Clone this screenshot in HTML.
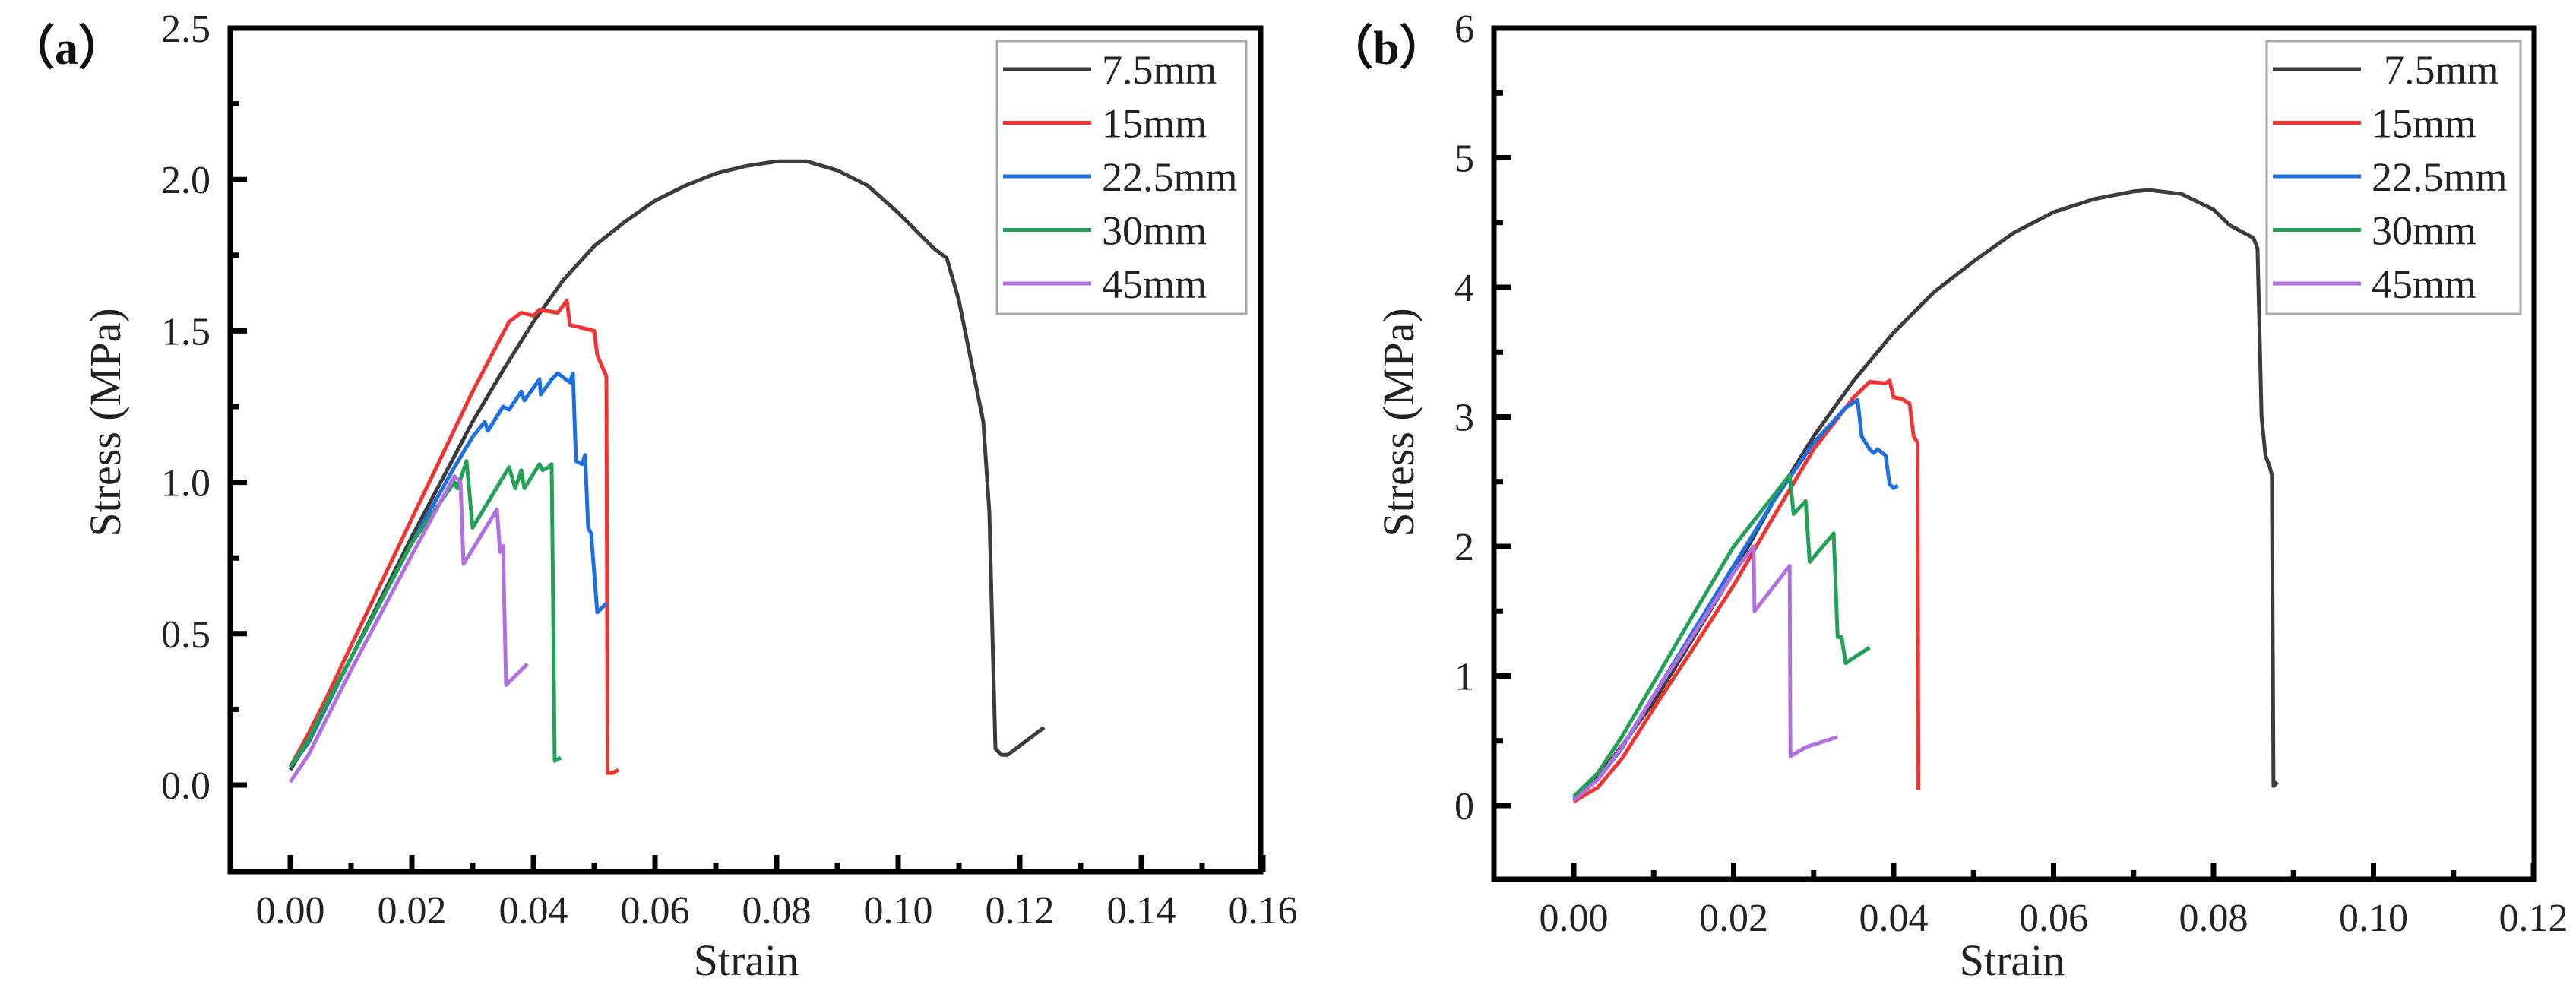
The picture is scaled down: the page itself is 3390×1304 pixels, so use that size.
<!DOCTYPE html>
<html><head><meta charset="utf-8"><style>
html,body{margin:0;padding:0;background:#fff;}
svg{display:block;font-family:"Liberation Serif",serif;}
</style></head><body>
<svg id="fig" width="3390" height="1304" viewBox="0 0 3390 1304" xmlns="http://www.w3.org/2000/svg">
<rect width="3390" height="1304" fill="#fff"/>
<text x="10" y="84" font-size="62" font-weight="bold" fill="#111">（a）</text>
<text x="1745" y="84" font-size="62" font-weight="bold" fill="#111">（b）</text>
</svg>
<script>
const seriesNames = ["7.5mm","15mm","22.5mm","30mm","45mm"];
const seriesColors = ["#3c3c3c","#f03434","#1e6fe0","#22a055","#b070e0"];

// Panel (a) data
const aBlackX = [0,0.003,0.006,0.01,0.015,0.02,0.025,0.03,0.035,0.04,0.045,0.05,0.055,0.06,0.065,0.07,0.075,0.08,0.085,0.09,0.095,0.1,0.103,0.106,0.108,0.11,0.112,0.114,0.115,0.1155,0.116,0.117,0.118,0.124];
const aBlackY = [0.05,0.15,0.27,0.42,0.62,0.82,1.01,1.2,1.37,1.53,1.67,1.78,1.86,1.93,1.98,2.02,2.045,2.06,2.06,2.03,1.98,1.89,1.83,1.77,1.74,1.6,1.4,1.2,0.9,0.5,0.12,0.1,0.1,0.19];
const aRedX = [0,0.003,0.006,0.01,0.02,0.03,0.036,0.038,0.04,0.041,0.044,0.0455,0.046,0.048,0.05,0.0505,0.052,0.0522,0.053,0.054];
const aRedY = [0.06,0.17,0.29,0.46,0.88,1.3,1.53,1.56,1.55,1.57,1.56,1.6,1.52,1.51,1.5,1.42,1.35,0.04,0.04,0.05];
const aBlueX = [0,0.003,0.006,0.01,0.02,0.027,0.03,0.032,0.0325,0.035,0.036,0.038,0.0385,0.041,0.0412,0.043,0.044,0.046,0.0465,0.047,0.048,0.0485,0.049,0.0495,0.0505,0.052];
const aBlueY = [0.06,0.14,0.26,0.42,0.8,1.05,1.15,1.2,1.17,1.25,1.24,1.3,1.27,1.34,1.29,1.34,1.36,1.33,1.36,1.07,1.06,1.09,0.85,0.83,0.57,0.6];
const aGreenX = [0,0.003,0.006,0.01,0.02,0.027,0.0275,0.029,0.03,0.033,0.036,0.037,0.038,0.0385,0.041,0.0415,0.0425,0.043,0.0435,0.0445];
const aGreenY = [0.06,0.15,0.27,0.42,0.8,1.0,0.98,1.07,0.85,0.95,1.05,0.98,1.04,0.98,1.06,1.04,1.05,1.06,0.08,0.09];
const aPurpleX = [0,0.003,0.006,0.01,0.02,0.027,0.028,0.0285,0.034,0.0345,0.035,0.0355,0.039];
const aPurpleY = [0.01,0.1,0.22,0.38,0.76,1.02,1.0,0.73,0.91,0.77,0.79,0.33,0.4];

// Panel (b) data
const bBlackX = [0,0.003,0.006,0.01,0.015,0.02,0.025,0.03,0.035,0.04,0.045,0.05,0.055,0.06,0.065,0.07,0.072,0.076,0.08,0.082,0.085,0.0855,0.086,0.0865,0.087,0.0873,0.0875,0.088];
const bBlackY = [0.05,0.22,0.46,0.8,1.3,1.8,2.35,2.85,3.28,3.65,3.96,4.2,4.42,4.58,4.68,4.74,4.75,4.72,4.6,4.48,4.38,4.3,3.0,2.7,2.62,2.55,0.15,0.18];
const bRedX = [0,0.003,0.006,0.01,0.015,0.02,0.025,0.03,0.035,0.037,0.039,0.0395,0.04,0.041,0.042,0.0425,0.043,0.0431];
const bRedY = [0.03,0.14,0.36,0.75,1.22,1.7,2.23,2.75,3.15,3.27,3.26,3.28,3.15,3.14,3.1,2.85,2.8,0.12];
const bBlueX = [0,0.003,0.006,0.01,0.015,0.02,0.025,0.03,0.034,0.0355,0.036,0.037,0.0375,0.038,0.039,0.0395,0.04,0.0405];
const bBlueY = [0.05,0.2,0.44,0.85,1.35,1.85,2.35,2.8,3.07,3.13,2.85,2.75,2.72,2.75,2.7,2.48,2.45,2.47];
const bGreenX = [0,0.003,0.006,0.01,0.015,0.02,0.027,0.0275,0.029,0.0295,0.0325,0.033,0.0335,0.034,0.037];
const bGreenY = [0.07,0.25,0.53,0.95,1.48,2.0,2.55,2.25,2.35,1.88,2.1,1.3,1.3,1.1,1.22];
const bPurpleX = [0,0.003,0.006,0.01,0.015,0.02,0.0225,0.0226,0.027,0.0271,0.029,0.033];
const bPurpleY = [0.04,0.2,0.45,0.85,1.32,1.8,2.0,1.5,1.85,0.38,0.45,0.53];

const aXTicks = ["0.00","0.02","0.04","0.06","0.08","0.10","0.12","0.14","0.16"];
const aYTicks = ["0.0","0.5","1.0","1.5","2.0","2.5"];
const bXTicks = ["0.00","0.02","0.04","0.06","0.08","0.10","0.12"];
const bYTicks = ["0","1","2","3","4","5","6"];

const NS = "http://www.w3.org/2000/svg";
const svg = document.getElementById("fig");
function mk(tag, attrs, parent){
  const e = document.createElementNS(NS, tag);
  for (const k in attrs) e.setAttribute(k, attrs[k]);
  (parent||svg).appendChild(e);
  return e;
}

function panel(p){
  const g = mk("g", {});
  
  
  const sx = v => p.x0 + v * p.xs;
  const sy = v => p.y0 - v * p.ys;
  p.series.forEach((s, i) => {
    const d = s[0].map((x, j) => (j ? "L" : "M") + sx(x).toFixed(1) + " " + sy(s[1][j]).toFixed(1)).join(" ");
    const path = mk("path", {d: d, fill: "none", stroke: seriesColors[i], "stroke-width": 5, "stroke-linejoin": "round"}, g);
    
    
  });
  const xt = p.xTicks.map(Number);
  const xstep = xt[1] - xt[0];
  for (let v = xt[0]; v <= xt[xt.length-1] + 1e-9; v += xstep/2){
    const major = Math.abs(Math.round(v/xstep)*xstep - v) < 1e-9;
    const t = mk("line", {x1: sx(v), x2: sx(v), y1: p.bottom, y2: p.bottom - (major ? 22 : 12), stroke: "#000", "stroke-width": 7}, g);
    
    
  }
  p.xTicks.forEach(lbl => {
    const t = mk("text", {x: sx(Number(lbl)), y: p.bottom + 68, "font-size": 52, "text-anchor": "middle", fill: "#222"}, g);
    t.textContent = lbl;
    
    
  });
  const yt = p.yTicks.map(Number);
  const ystep = yt[1] - yt[0];
  for (let v = yt[0]; v <= yt[yt.length-1] + 1e-9; v += ystep/2){
    const major = Math.abs(Math.round(v/ystep)*ystep - v) < 1e-9;
    const t = mk("line", {x1: p.left, x2: p.left + (major ? 22 : 12), y1: sy(v), y2: sy(v), stroke: "#000", "stroke-width": 7}, g);
    
    
  }
  p.yTicks.forEach(lbl => {
    const t = mk("text", {x: p.left - 26, y: sy(Number(lbl)) + 18, "font-size": 52, "text-anchor": "end", fill: "#222"}, g);
    t.textContent = lbl;
    
    
  });
  const f = mk("rect", {x: p.left, y: p.top, width: p.right - p.left, height: p.bottom - p.top, fill: "none", stroke: "#000", "stroke-width": 7}, g);
  
  
  const xtitle = mk("text", {x: p.xTitleX, y: 1283, "font-size": 58, "text-anchor": "middle", fill: "#222"}, g);
  xtitle.textContent = "Strain";
  
  
  const ytitle = mk("text", {x: 0, y: 0, "font-size": 58, "text-anchor": "middle", fill: "#222", transform: "translate(" + p.yTitleX + "," + 556 + ") rotate(-90)"}, g);
  ytitle.textContent = "Stress (MPa)";
  
  
  const lg = mk("g", {}, g);
  
  
  mk("rect", {x: p.lx, y: 54, width: p.lw, height: 359, fill: "#fff", stroke: "#aaa", "stroke-width": 3}, lg);
  seriesNames.forEach((n, i) => {
    const yy = 91 + i * 70.5;
    const e = mk("g", {}, lg);
    
    
    mk("line", {x1: p.lx + 8, x2: p.lx + 124, y1: yy, y2: yy, stroke: seriesColors[i], "stroke-width": 5}, e);
    const t = mk("text", {x: p.lx + 138 + (i === 0 ? p.firstIndent : 0), y: yy + 19, "font-size": 54, fill: "#222"}, e);
    t.textContent = n;
  });
}

panel({id: "panel-a", x0: 382, xs: 8000, y0: 1033, ys: 398.4, left: 303, right: 1659, top: 37, bottom: 1147,
  xTicks: aXTicks, yTicks: aYTicks, xTitleX: 982, yTitleX: 158, lx: 1312, lw: 328, firstIndent: 0,
  series: [[aBlackX, aBlackY], [aRedX, aRedY], [aBlueX, aBlueY], [aGreenX, aGreenY], [aPurpleX, aPurpleY]]});
panel({id: "panel-b", x0: 2071, xs: 10525, y0: 1060, ys: 170.5, left: 1966, right: 3335, top: 37, bottom: 1157,
  xTicks: bXTicks, yTicks: bYTicks, xTitleX: 2648, yTitleX: 1860, lx: 2983, lw: 334, firstIndent: 16,
  series: [[bBlackX, bBlackY], [bRedX, bRedY], [bBlueX, bBlueY], [bGreenX, bGreenY], [bPurpleX, bPurpleY]]});
</script>
</body></html>
